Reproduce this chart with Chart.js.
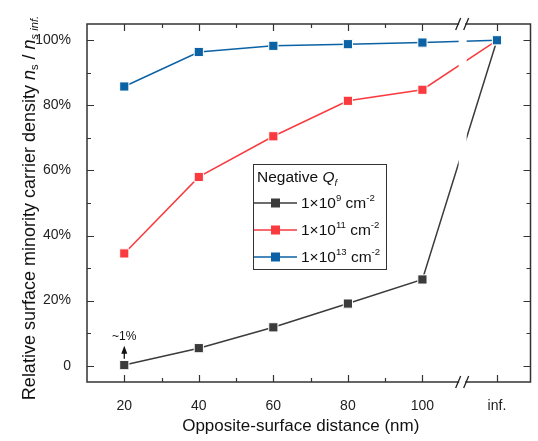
<!DOCTYPE html>
<html>
<head>
<meta charset="utf-8">
<script src="https://cdn.jsdelivr.net/npm/chart.js@4/dist/chart.umd.min.js"></script>
<style>
  html, body { margin: 0; padding: 0; background: #fff; }
</style>
</head>
<body>
<canvas id="chart" width="538" height="441"></canvas>
<script>
// distance categories; "inf." sits one step past 100 behind an axis break
const distances = ['20', '40', '60', '80', '100', 'inf.'];
const xValues = [20, 40, 60, 80, 100, 120];
const yTicks = [0, 20, 40, 60, 80, 100];

// relative carrier density (%) for each fixed charge density
const qf9 = [0.2, 5.4, 11.8, 19.1, 26.5, 100];
const qf11 = [34.5, 58.0, 70.5, 81.4, 84.8, 100];
const qf13 = [85.8, 96.4, 98.3, 98.8, 99.3, 100];
const exponents = ['9', '11', '13'];

const colors = ['#3b3b3b', '#f93a3f', '#0b62a4'];
const FONT = 'Arial, "Liberation Sans", sans-serif';
const breakAt = 110.8;

function makeSet(values, i) {
    return {
        label: '1×10^' + exponents[i] + ' cm^-2',
        data: xValues.map((x, k) => ({ x: x, y: values[k] })),
        borderColor: colors[i],
        backgroundColor: colors[i],
        pointBackgroundColor: colors[i],
        pointBorderColor: '#fff',
        pointBorderWidth: 1,
        pointStyle: 'rect',
        pointRadius: 6.5,
        borderWidth: 1.5,
        tension: 0,
        order: 3 - i
    };
}

// draw text pieces: {t, italic, shift (px, positive = down), small}
function drawRich(ctx, parts, x, y, size) {
    let cx = x;
    parts.forEach(p => {
        const s = p.small ? size * 0.62 : size;
        ctx.font = (p.italic ? 'italic ' : '') + s + 'px ' + FONT;
        ctx.fillText(p.t, cx, y + (p.shift || 0));
        cx += ctx.measureText(p.t).width;
    });
    return cx - x;
}
function richWidth(ctx, parts, size) {
    let w = 0;
    parts.forEach(p => {
        const s = p.small ? size * 0.62 : size;
        ctx.font = (p.italic ? 'italic ' : '') + s + 'px ' + FONT;
        w += ctx.measureText(p.t).width;
    });
    return w;
}

const decor = {
    id: 'decor',
    afterDatasetsDraw(chart) {
        const { ctx, chartArea: a, scales: { x, y } } = chart;
        const bx = x.getPixelForValue(breakAt);
        ctx.save();

        // gap in the data lines at the axis break
        ctx.fillStyle = '#fff';
        ctx.fillRect(bx - 4, a.top + 1, 8, a.bottom - a.top - 2);

        // frame
        ctx.strokeStyle = '#333';
        ctx.lineWidth = 1.5;
        ctx.strokeRect(a.left, a.top, a.right - a.left, a.bottom - a.top);

        // inward ticks
        ctx.lineWidth = 1.2;
        ctx.beginPath();
        for (let v = 0; v <= 100; v += 10) {
            const py = Math.round(y.getPixelForValue(v)) + 0.5;
            const len = v % 20 === 0 ? 7 : 4;
            ctx.moveTo(a.left, py); ctx.lineTo(a.left + len, py);
            ctx.moveTo(a.right, py); ctx.lineTo(a.right - len, py);
        }
        const xt = [20, 30, 40, 50, 60, 70, 80, 90, 100, 120];
        xt.forEach(v => {
            const px = Math.round(x.getPixelForValue(v)) + 0.5;
            const len = xValues.includes(v) ? 7 : 4;
            ctx.moveTo(px, a.top); ctx.lineTo(px, a.top + len);
            ctx.moveTo(px, a.bottom); ctx.lineTo(px, a.bottom - len);
        });
        ctx.stroke();

        // break marks on top and bottom axes
        [a.top, a.bottom].forEach(ty => {
            ctx.fillStyle = '#fff';
            ctx.fillRect(bx - 3.5, ty - 2, 6, 4);
            ctx.strokeStyle = '#222';
            ctx.lineWidth = 1.3;
            ctx.beginPath();
            ctx.moveTo(bx - 7, ty + 6); ctx.lineTo(bx - 2, ty - 6);
            ctx.moveTo(bx + 1, ty + 6); ctx.lineTo(bx + 6, ty - 6);
            ctx.stroke();
        });

        // "~1%" note with arrow over the first point
        const ax = x.getPixelForValue(20);
        const ay = y.getPixelForValue(0);
        ctx.strokeStyle = '#111';
        ctx.fillStyle = '#111';
        ctx.lineWidth = 1.3;
        ctx.beginPath();
        ctx.moveTo(ax, ay - 7); ctx.lineTo(ax, ay - 16);
        ctx.stroke();
        ctx.beginPath();
        ctx.moveTo(ax, ay - 20); ctx.lineTo(ax - 3, ay - 12); ctx.lineTo(ax + 3, ay - 12);
        ctx.closePath();
        ctx.fill();
        ctx.font = '12px ' + FONT;
        ctx.textAlign = 'center';
        ctx.textBaseline = 'middle';
        ctx.fillText('~1%', ax, ay - 29);
        ctx.restore();
    },
    afterDraw(chart) {
        const { ctx, chartArea: a } = chart;
        ctx.save();
        ctx.fillStyle = '#111';
        ctx.textBaseline = 'middle';
        ctx.textAlign = 'left';

        // legend box
        const lx = 253, ly = 164, lw = 133, lh = 105;
        ctx.fillStyle = '#fff';
        ctx.fillRect(lx, ly, lw, lh);
        ctx.strokeStyle = '#333';
        ctx.lineWidth = 1;
        ctx.strokeRect(lx + 0.5, ly + 0.5, lw, lh);
        ctx.fillStyle = '#111';
        drawRich(ctx, [{ t: 'Negative ' }, { t: 'Q', italic: true }, { t: 'f', italic: true, small: true, shift: 5 }], lx + 4, ly + 14, 15.5);
        exponents.forEach((e, i) => {
            const ry = ly + 39 + i * 27;
            ctx.strokeStyle = colors[i];
            ctx.lineWidth = 1.5;
            ctx.beginPath();
            ctx.moveTo(lx + 1, ry); ctx.lineTo(lx + 44, ry);
            ctx.stroke();
            ctx.fillStyle = colors[i];
            ctx.fillRect(lx + 18, ry - 4.5, 9, 9);
            ctx.fillStyle = '#111';
            drawRich(ctx, [{ t: '1×10' }, { t: e, small: true, shift: -6 }, { t: ' cm' }, { t: '-2', small: true, shift: -6 }], lx + 48, ry + 1, 15.5);
        });

        // axis titles
        const size = 17;
        ctx.fillStyle = '#111';
        ctx.textAlign = 'left';
        ctx.font = size + 'px ' + FONT;
        const xt = 'Opposite-surface distance (nm)';
        const xw = ctx.measureText(xt).width;
        ctx.fillText(xt, (a.left + a.right) / 2 - xw / 2 - 8, 426);

        const ys = 18;
        const yParts = [
            { t: 'Relative surface minority carrier density ' },
            { t: 'n', italic: true },
            { t: 's', small: true, shift: 5 },
            { t: ' / ' },
            { t: 'n', italic: true },
            { t: 's inf.', small: true, shift: 5, italic: true }
        ];
        const yw = richWidth(ctx, yParts, ys);
        ctx.translate(30, 208);
        ctx.rotate(-Math.PI / 2);
        drawRich(ctx, yParts, -yw / 2, 0, ys);
        ctx.restore();
    }
};

new Chart(document.getElementById('chart').getContext('2d'), {
    type: 'line',
    data: { datasets: [makeSet(qf9, 0), makeSet(qf11, 1), makeSet(qf13, 2)] },
    options: {
        responsive: false,
        animation: false,
        layout: { padding: { top: 24, right: 5, left: 0, bottom: 0 } },
        plugins: { legend: { display: false }, tooltip: { enabled: false } },
        scales: {
            x: {
                type: 'linear',
                min: 10,
                max: 129,
                grid: { display: false },
                border: { display: false },
                afterBuildTicks: s => { s.ticks = xValues.map(v => ({ value: v })); },
                afterFit: s => { s.height = 59; },
                ticks: {
                    padding: 8,
                    color: '#222',
                    font: { family: FONT, size: 14 },
                    maxRotation: 0,
                    callback: v => distances[xValues.indexOf(v)]
                }
            },
            y: {
                min: -5,
                max: 105,
                grid: { display: false },
                border: { display: false },
                afterBuildTicks: s => { s.ticks = yTicks.map(v => ({ value: v })); },
                afterFit: s => { s.width = 87; },
                ticks: {
                    padding: 8,
                    color: '#222',
                    font: { family: FONT, size: 14 },
                    callback: v => v === 0 ? '0' : v + '%'
                }
            }
        }
    },
    plugins: [decor]
});
</script>
</body>
</html>
